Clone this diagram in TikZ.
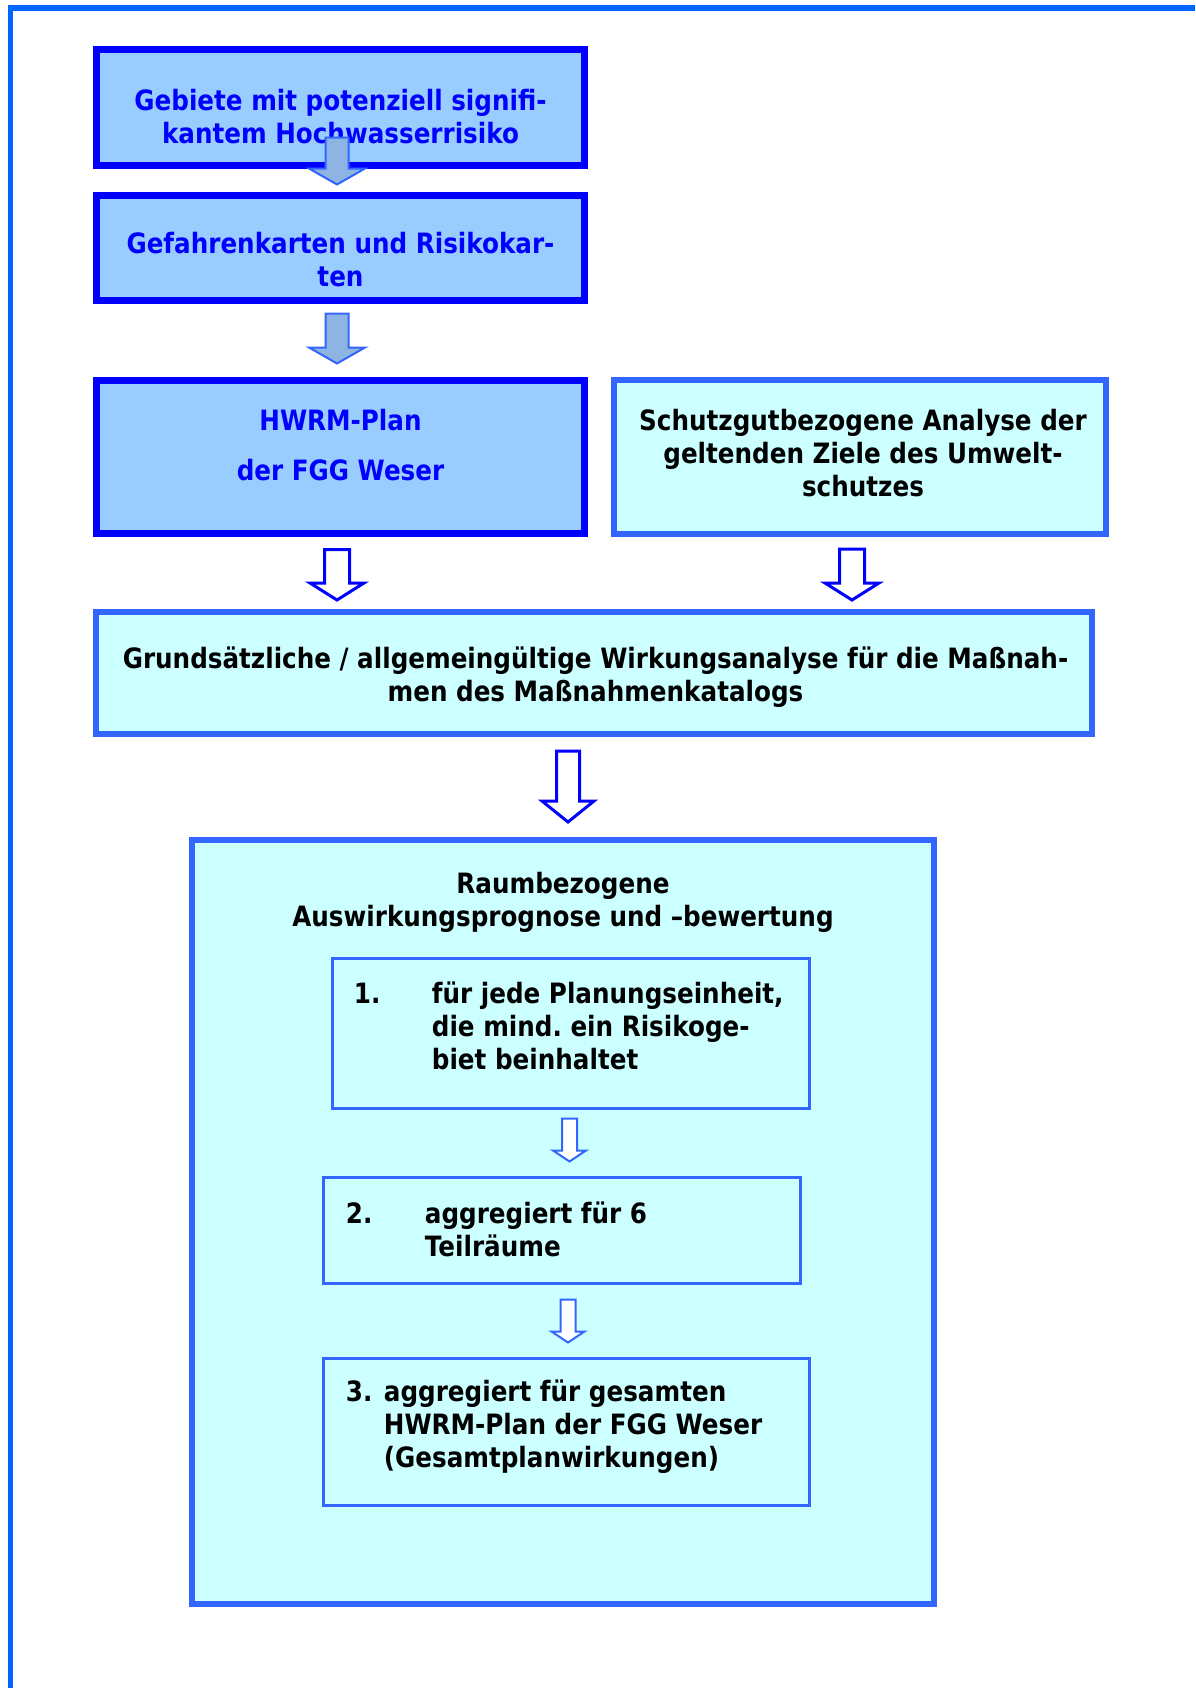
\documentclass[tikz,border=0pt]{standalone}
\usepackage{fontspec}
\setmainfont{DejaVu Sans}[FakeStretch=0.88]
\usetikzlibrary{positioning,calc}
\frenchspacing

\definecolor{hellblau}{HTML}{99CCFF}
\definecolor{tuerkis}{HTML}{CCFFFF}
\definecolor{rahmen}{HTML}{3366FF}
\definecolor{pfeilgrau}{HTML}{8EB4E3}
\definecolor{aussen}{HTML}{0066FF}

\tikzset{
  dunkelbox/.style={draw=blue, fill=hellblau, line width=3.5pt, inner sep=0pt},
  hellbox/.style={draw=rahmen, fill=tuerkis, line width=3pt, inner sep=0pt},
  stufenbox/.style={draw=rahmen, fill=tuerkis, line width=1.5pt, inner sep=0pt},
  blautext/.style={text=blue, align=center, inner sep=0pt,
    font=\fontsize{14}{16.5}\selectfont\bfseries},
  schwarztext/.style={align=center, inner sep=0pt,
    font=\fontsize{14}{16.5}\selectfont\bfseries},
  stufentext/.style={anchor=base west, inner sep=0pt,
    font=\fontsize{14}{16.5}\selectfont\bfseries},
  grauerpfeil/.style={draw=rahmen, fill=pfeilgrau, line width=1pt, line join=miter},
  weisserpfeil/.style={draw=blue, fill=white, line width=1.5pt, line join=miter},
  kleinerpfeil/.style={draw=rahmen, fill=white, line width=1pt, line join=miter}
}

% block arrow: style, from, to, shaft half width, head half width, head length
\newcommand{\blockpfeil}[6]{%
  \draw[#1] let \p1=(#2), \p2=(#3) in
    (\x1-#4,\y1) -- (\x1+#4,\y1) -- (\x1+#4,\y2+#6) -- (\x1+#5,\y2+#6)
    -- (\x1,\y2) -- (\x1-#5,\y2+#6) -- (\x1-#4,\y2+#6) -- cycle;}

\begin{document}
\begin{tikzpicture}[x=0.5pt,y=-0.5pt]
\useasboundingbox (0,0) rectangle (1195,1688);
\draw[aussen, line width=2.75pt] (10.5,1688) -- (10.5,8) -- (1195,8);

% obere Kette
\node[dunkelbox, minimum width=244pt, minimum height=58pt] (gebiete) at (340.5,107.5) {};
\node[blautext] (gebiete-t) at ($(gebiete)+(0,9.5)$) {Gebiete mit potenziell signifi-\\kantem Hochwasserrisiko};
\node[dunkelbox, minimum width=244pt, minimum height=52.5pt] (karten) at (340.5,248) {};
\node[blautext] (karten-t) at ($(karten)+(0,12)$) {Gefahrenkarten und Risikokar-\\ten};
\node[dunkelbox, minimum width=244pt, minimum height=76.5pt] (hwrm) at (340.5,457) {};
\node[blautext] (hwrm-t) at ($(hwrm)+(0,-12)$) {HWRM-Plan\\[8.5pt]der FGG Weser};
\node[hellbox, minimum width=246pt, minimum height=77pt] (schutz) at (860,457) {};
\node[schwarztext] (schutz-t) at ($(schutz)+(3,-4)$) {Schutzgutbezogene Analyse der\\geltenden Ziele des Umwelt-\\schutzes};
\node[hellbox, minimum width=498pt, minimum height=61pt] (grund) at (594,673) {};
\node[schwarztext] (grund-t) at ($(grund)+(1.5,4)$) {Grundsätzliche / allgemeingültige Wirkungsanalyse für die Maßnah-\\men des Maßnahmenkatalogs};

% Raumbezogene Prognose
\node[hellbox, minimum width=371pt, minimum height=382pt] (raum) at (563,1222) {};
\node[schwarztext] (raum-t) at ($(raum.north)+(0,65)$) {Raumbezogene\\Auswirkungsprognose und –bewertung};
\node[stufenbox, minimum width=238.5pt, minimum height=75pt] (stufe1) at (571,1033.5) {};
\node[stufentext] (stufe1-t) at ($(stufe1.north west)+(22.5,46.5)$)
  {\begin{tabular}[t]{@{}p{39pt}@{}l@{}}1. & für jede Planungseinheit,\\ & die mind. ein Risikoge-\\ & biet beinhaltet\end{tabular}};
\node[stufenbox, minimum width=238.5pt, minimum height=53pt] (stufe2) at (562,1230.5) {};
\node[stufentext] (stufe2-t) at ($(stufe2.north west)+(23.5,47.5)$)
  {\begin{tabular}[t]{@{}p{39.5pt}@{}l@{}}2. & aggregiert für 6\\ & Teilräume\end{tabular}};
\node[stufenbox, minimum width=243pt, minimum height=73.5pt] (stufe3) at (566.5,1432) {};
\node[stufentext] (stufe3-t) at ($(stufe3.north west)+(23.5,44.5)$)
  {\begin{tabular}[t]{@{}p{19pt}@{}l@{}}3. & aggregiert für gesamten\\ & HWRM-Plan der FGG Weser\\ & (Gesamtplanwirkungen)\end{tabular}};

% Pfeile
\blockpfeil{grauerpfeil}{$(gebiete.south)+(-3.5,-31.5)$}{$(karten.north)+(-3.5,-7.5)$}{5.75pt}{14pt}{8pt}
\blockpfeil{grauerpfeil}{$(karten.south)+(-3.5,9.5)$}{$(hwrm.north)+(-3.5,-13.5)$}{5.75pt}{14pt}{8pt}
\blockpfeil{weisserpfeil}{$(hwrm.south)+(-3.5,12.5)$}{$(hwrm.south |- grund.north)+(-3.5,-9)$}{6.25pt}{13.5pt}{8.5pt}
\blockpfeil{weisserpfeil}{$(schutz.south)+(-8,12)$}{$(schutz.south |- grund.north)+(-8,-9)$}{6.25pt}{13.5pt}{8.5pt}
\blockpfeil{weisserpfeil}{$(raum.north |- grund.south)+(5,14)$}{$(raum.north)+(5,-15)$}{5.75pt}{13pt}{10.5pt}
\blockpfeil{kleinerpfeil}{$(stufe1.south)+(-1.5,8.5)$}{$(stufe2.north)+(-1.5,-14.5)$}{3.75pt}{8.25pt}{5.5pt}
\blockpfeil{kleinerpfeil}{$(stufe2.south)+(6,14.5)$}{$(stufe3.north)+(6,-14.5)$}{3.75pt}{8.25pt}{5.5pt}
\end{tikzpicture}
\end{document}
